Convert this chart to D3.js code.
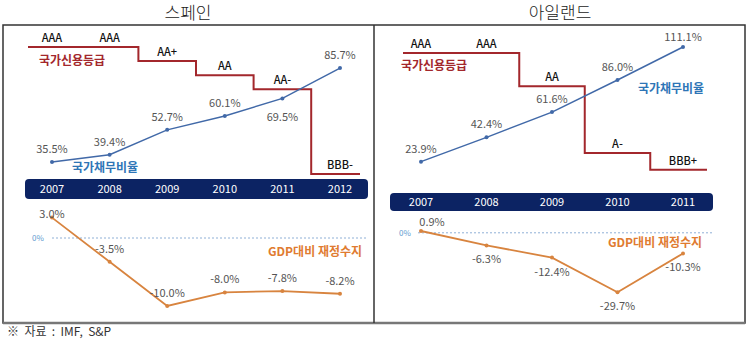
<!DOCTYPE html>
<html>
<head>
<meta charset="utf-8">
<script src="https://cdn.jsdelivr.net/npm/d3@7"></script>
<style>
  body { margin: 0; background: #fff; }
  svg { display: block; font-family: "Noto Sans CJK KR", "Noto Sans", sans-serif; }
</style>
</head>
<body>
<svg width="750" height="340"></svg>
<script>
// ---- data ----
const ratingOrder = ['AAA', 'AA+', 'AA', 'AA-', 'A+', 'A', 'A-', 'BBB+', 'BBB', 'BBB-'];

const spainYears = ['2007', '2008', '2009', '2010', '2011', '2012'];
const spainRating = ['AAA', 'AAA', 'AA+', 'AA', 'AA-', 'BBB-'];
const spainDebt = [35.5, 39.4, 52.7, 60.1, 69.5, 85.7];
const spainBalance = [3.0, -3.5, -10.0, -8.0, -7.8, -8.2];

const irelandYears = ['2007', '2008', '2009', '2010', '2011'];
const irelandRating = ['AAA', 'AAA', 'AA', 'A-', 'BBB+'];
const irelandDebt = [23.9, 42.4, 61.6, 86.0, 111.1];
const irelandBalance = [0.9, -6.3, -12.4, -29.7, -10.3];

const fmt = d => d.toFixed(1) + '%';

const svg = d3.select('svg');

// frame
svg.append('rect').attr('x', 3).attr('y', 25).attr('width', 742).attr('height', 298)
  .attr('fill', 'none').attr('stroke', '#333').attr('stroke-width', 1.5);
svg.append('line').attr('x1', 3).attr('x2', 745).attr('y1', 323).attr('y2', 323)
  .attr('stroke', '#777').attr('stroke-width', 2.5);
svg.append('line').attr('x1', 374).attr('x2', 374).attr('y1', 25).attr('y2', 323)
  .attr('stroke', '#333').attr('stroke-width', 1.5);

const panels = [
  {
    title: '스페인', titleX: 188,
    years: spainYears, rating: spainRating, debt: spainDebt, balance: spainBalance,
    xRange: [52, 340], lineStart: 28, lineEnd: 360,
    band: [25, 368, 179, 199],
    ratingRange: [47, 174],
    debtDomain: [0, 100], debtRange: [228.5, 41.3],
    balDomain: [0, -10], balRange: [238, 306],
    debtDy: [-9, -9, -9, -9, 23, -9],
    balDx: [0, 0, 0, 0, 0, 0], balDy: [0, -9, -9, -9, -9, -9],
    zeroStart: 52, zeroEnd: 367, zeroLabelX: 38,
    ratingLabel: [72, 61], debtLabel: [105, 168], balLabel: [315, 252]
  },
  {
    title: '아일랜드', titleX: 560,
    years: irelandYears, rating: irelandRating, debt: irelandDebt, balance: irelandBalance,
    xRange: [421, 683], lineStart: 403, lineEnd: 707,
    band: [390, 713, 193, 211],
    ratingRange: [53, 203],
    debtDomain: [0, 100], debtRange: [193.1, 61.6],
    balDomain: [0, -30], balRange: [232.8, 292.8],
    debtDy: [-9, -9, -9, -9, -6],
    balDx: [11, 0, 0, 0, 0], balDy: [-5, 18, 18, 18, 18],
    zeroStart: 418, zeroEnd: 713, zeroLabelX: 405,
    ratingLabel: [434, 66], debtLabel: [671, 89], balLabel: [655, 243]
  }
];

panels.forEach(p => {
  const g = svg.append('g');

  g.append('text').attr('x', p.titleX).attr('y', 19).attr('text-anchor', 'middle')
    .attr('font-size', 17).attr('font-weight', 300).attr('fill', '#222').text(p.title);

  const x = d3.scalePoint().domain(p.years).range(p.xRange);
  const yR = d3.scalePoint().domain(ratingOrder).range(p.ratingRange);
  const yD = d3.scaleLinear().domain(p.debtDomain).range(p.debtRange);
  const yB = d3.scaleLinear().domain(p.balDomain).range(p.balRange);

  // year band
  const [bx0, bx1, by0, by1] = p.band;
  g.append('rect').attr('x', bx0).attr('y', by0).attr('width', bx1 - bx0).attr('height', by1 - by0)
    .attr('rx', 4).attr('fill', '#0c2363');
  g.selectAll('.yr').data(p.years).enter().append('text')
    .attr('x', d => x(d)).attr('y', (by0 + by1) / 2 + 4)
    .attr('text-anchor', 'middle').attr('font-size', 11).attr('fill', '#fff').text(d => d);

  // rating step line
  const n = p.years.length;
  const stepPts = [[p.lineStart, yR(p.rating[0])]]
    .concat(p.years.map((yr, i) => [x(yr), yR(p.rating[i])]))
    .concat([[p.lineEnd, yR(p.rating[n - 1])]]);
  g.append('path').attr('d', d3.line().curve(d3.curveStep)(stepPts))
    .attr('fill', 'none').attr('stroke', '#a3272c').attr('stroke-width', 2);
  g.selectAll('.rl').data(p.rating).enter().append('text')
    .attr('x', (d, i) => x(p.years[i])).attr('y', d => yR(d) - 5)
    .attr('text-anchor', 'middle').attr('font-size', 11).attr('font-weight', 500)
    .attr('fill', '#111').text(d => d);

  // debt line
  const debtLine = d3.line().x((d, i) => x(p.years[i])).y(d => yD(d));
  g.append('path').attr('d', debtLine(p.debt))
    .attr('fill', 'none').attr('stroke', '#4169a8').attr('stroke-width', 1.5);
  g.selectAll('.dp').data(p.debt).enter().append('circle')
    .attr('cx', (d, i) => x(p.years[i])).attr('cy', d => yD(d)).attr('r', 2)
    .attr('fill', '#4169a8');
  g.selectAll('.dl').data(p.debt).enter().append('text')
    .attr('x', (d, i) => x(p.years[i])).attr('y', (d, i) => yD(d) + p.debtDy[i])
    .attr('text-anchor', 'middle').attr('font-size', 11).attr('fill', '#555').text(fmt);

  // zero reference
  g.append('line').attr('x1', p.zeroStart).attr('x2', p.zeroEnd)
    .attr('y1', yB(0)).attr('y2', yB(0))
    .attr('stroke', '#8fb0d6').attr('stroke-width', 1).attr('stroke-dasharray', '2,2');
  g.append('text').attr('x', p.zeroLabelX).attr('y', yB(0) + 3).attr('text-anchor', 'middle')
    .attr('font-size', 8).attr('fill', '#5f9bd0').text('0%');

  // fiscal balance line
  const balLine = d3.line().x((d, i) => x(p.years[i])).y(d => yB(d));
  g.append('path').attr('d', balLine(p.balance))
    .attr('fill', 'none').attr('stroke', '#d8843f').attr('stroke-width', 1.8);
  g.selectAll('.bp').data(p.balance).enter().append('circle')
    .attr('cx', (d, i) => x(p.years[i])).attr('cy', d => yB(d)).attr('r', 2)
    .attr('fill', '#d8843f');
  g.selectAll('.bl').data(p.balance).enter().append('text')
    .attr('x', (d, i) => x(p.years[i]) + p.balDx[i]).attr('y', (d, i) => yB(d) + p.balDy[i])
    .attr('text-anchor', 'middle').attr('font-size', 11).attr('fill', '#555').text(fmt);

  // series names
  g.append('text').attr('x', p.ratingLabel[0]).attr('y', p.ratingLabel[1] + 4)
    .attr('text-anchor', 'middle').attr('font-size', 12).attr('font-weight', 700)
    .attr('fill', '#a3272c').text('국가신용등급');
  g.append('text').attr('x', p.debtLabel[0]).attr('y', p.debtLabel[1] + 4)
    .attr('text-anchor', 'middle').attr('font-size', 12).attr('font-weight', 700)
    .attr('fill', '#2e75b6').text('국가채무비율');
  g.append('text').attr('x', p.balLabel[0]).attr('y', p.balLabel[1] + 4)
    .attr('text-anchor', 'middle').attr('font-size', 12).attr('font-weight', 700)
    .attr('fill', '#e07b30').text('GDP대비 재정수지');
});

svg.append('text').attr('x', 7).attr('y', 336).attr('font-size', 12).attr('fill', '#333')
  .style('white-space', 'pre').text('※  자료  :  IMF,  S&P');
</script>
</body>
</html>
